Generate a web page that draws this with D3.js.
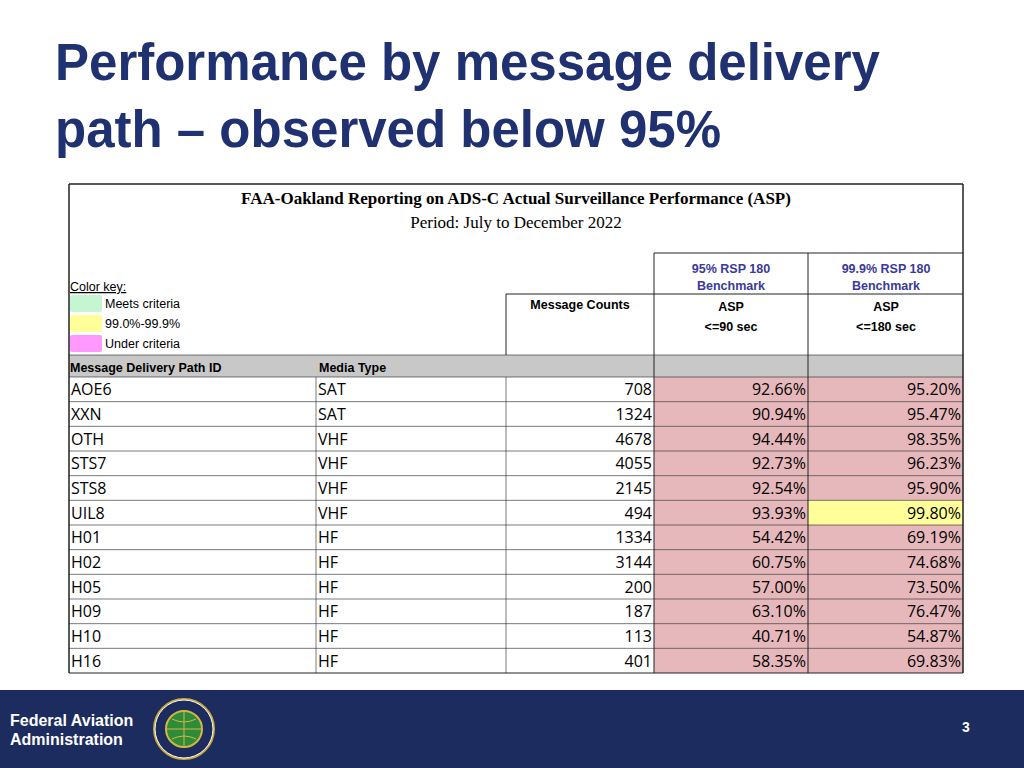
<!DOCTYPE html>
<html><head><meta charset="utf-8">
<script src="https://cdn.jsdelivr.net/npm/d3@7"></script>
<style>body{margin:0;background:#fff}</style></head>
<body><svg id="s" width="1024" height="768"></svg>
<script>
const pathIds = ["AOE6","XXN","OTH","STS7","STS8","UIL8","H01","H02","H05","H09","H10","H16"];
const mediaTypes = ["SAT","SAT","VHF","VHF","VHF","VHF","HF","HF","HF","HF","HF","HF"];
const messageCounts = [708,1324,4678,4055,2145,494,1334,3144,200,187,113,401];
const asp90 = [92.66,90.94,94.44,92.73,92.54,93.93,54.42,60.75,57.00,63.10,40.71,58.35];
const asp180 = [95.20,95.47,98.35,96.23,95.90,99.80,69.19,74.68,73.50,76.47,54.87,69.83];
const keyLabels = ["Meets criteria","99.0%-99.9%","Under criteria"];

const svg = d3.select("#s");
const navy = "#1f3170";
svg.append("text").attr("x",55).attr("y",80).attr("font-family","Liberation Sans, Arial").attr("font-weight","bold").attr("font-size",51).attr("fill",navy).text("Performance by message delivery");
svg.append("text").attr("x",55).attr("y",147).attr("font-family","Liberation Sans, Arial").attr("font-weight","bold").attr("font-size",51).attr("fill",navy).text("path – observed below 95%");

svg.append("rect").attr("x",0).attr("y",690).attr("width",1024).attr("height",78).attr("fill","#1d2c5e");
svg.append("text").attr("x",10).attr("y",726).attr("fill","#fff").attr("font-family","Liberation Sans, Arial").attr("font-weight","bold").attr("font-size",16).text("Federal Aviation");
svg.append("text").attr("x",10).attr("y",745).attr("fill","#fff").attr("font-family","Liberation Sans, Arial").attr("font-weight","bold").attr("font-size",16).text("Administration");
svg.append("text").attr("x",966).attr("y",732).attr("fill","#fff").attr("text-anchor","middle").attr("font-family","Liberation Sans, Arial").attr("font-weight","bold").attr("font-size",14).text("3");
const logo = svg.append("g").attr("transform","translate(184,729)");
logo.append("circle").attr("r",30).attr("fill","#1d2c5e").attr("stroke","#c8a83c").attr("stroke-width",2);
logo.append("circle").attr("r",29).attr("fill","none").attr("stroke","#fff").attr("stroke-width",1);
logo.append("circle").attr("r",18).attr("fill","#2e8b3a").attr("stroke","#d4b640").attr("stroke-width",2);
logo.append("path").attr("d","M-18,0H18M0,-18V18M-12,-10Q0,-4 12,-10M-12,10Q0,4 12,10").attr("stroke","#d4b640").attr("fill","none").attr("stroke-width",1);

const cols = [69,316,506,654,808,963];
const tableTop = 184, bandY = 355, bandH = 22;
const y = d3.scaleBand().domain(pathIds).range([377,673]);
const F = "Liberation Sans, Arial";
const T = "Open Sans, DejaVu Sans";
const ln = (x1,y1,x2,y2,w=1)=>svg.append("line").attr("x1",x1).attr("y1",y1).attr("x2",x2).attr("y2",y2).attr("stroke","#222").attr("stroke-width",w);

svg.append("rect").attr("x",cols[0]).attr("y",bandY).attr("width",cols[5]-cols[0]).attr("height",bandH).attr("fill","#c8c8c8");
const g = svg.append("g");
pathIds.forEach((id,i)=>{
  g.append("rect").attr("x",cols[3]).attr("y",y(id)).attr("width",cols[4]-cols[3]).attr("height",y.bandwidth()).attr("fill","#e6b8bb");
  g.append("rect").attr("x",cols[4]).attr("y",y(id)).attr("width",cols[5]-cols[4]).attr("height",y.bandwidth()).attr("fill",asp180[i]>=99?"#ffff99":"#e6b8bb");
});
svg.append("text").attr("x",516).attr("y",204).attr("text-anchor","middle").attr("font-family","Liberation Serif, Times New Roman").attr("font-weight","bold").attr("font-size",17).text("FAA-Oakland Reporting on ADS-C Actual Surveillance Performance (ASP)");
svg.append("text").attr("x",516).attr("y",228).attr("text-anchor","middle").attr("font-family","Liberation Serif, Times New Roman").attr("font-size",17).text("Period: July to December 2022");
svg.append("text").attr("x",70).attr("y",291).attr("font-family",F).attr("font-size",12.5).attr("text-decoration","underline").text("Color key:");
const keyCols = ["#c6f5d2","#ffff99","#ff99ff"];
keyLabels.forEach((k,i)=>{
  svg.append("rect").attr("x",70).attr("y",295+i*20).attr("width",32).attr("height",17).attr("rx",2).attr("fill",keyCols[i]);
  svg.append("text").attr("x",105).attr("y",308+i*20).attr("font-family",F).attr("font-size",12.5).text(k);
});
svg.append("text").attr("x",70).attr("y",372).attr("font-family",F).attr("font-weight","bold").attr("font-size",12.5).text("Message Delivery Path ID");
svg.append("text").attr("x",319).attr("y",372).attr("font-family",F).attr("font-weight","bold").attr("font-size",12.5).text("Media Type");
svg.append("text").attr("x",580).attr("y",309).attr("text-anchor","middle").attr("font-family",F).attr("font-weight","bold").attr("font-size",12.5).text("Message Counts");
[[731,"95% RSP 180","<=90 sec"],[886,"99.9% RSP 180","<=180 sec"]].forEach(([cx,a,b])=>{
  svg.append("text").attr("x",cx).attr("y",273).attr("text-anchor","middle").attr("font-family",F).attr("font-weight","bold").attr("font-size",12.5).attr("fill","#3a3a9a").text(a);
  svg.append("text").attr("x",cx).attr("y",290).attr("text-anchor","middle").attr("font-family",F).attr("font-weight","bold").attr("font-size",12.5).attr("fill","#3a3a9a").text("Benchmark");
  svg.append("text").attr("x",cx).attr("y",311).attr("text-anchor","middle").attr("font-family",F).attr("font-weight","bold").attr("font-size",12.5).text("ASP");
  svg.append("text").attr("x",cx).attr("y",331).attr("text-anchor","middle").attr("font-family",F).attr("font-weight","bold").attr("font-size",12.5).text(b);
});
pathIds.forEach((id,i)=>{
  const by = y(id)+y.bandwidth()/2+6;
  const t=(x,s,anc="start")=>svg.append("text").attr("x",x).attr("y",by).attr("text-anchor",anc).attr("font-family",T).attr("font-size",16).text(s);
  t(71,id); t(318,mediaTypes[i]);
  t(652,messageCounts[i],"end");
  t(806,asp90[i].toFixed(2)+"%","end");
  t(961,asp180[i].toFixed(2)+"%","end");
});
ln(cols[0],tableTop,cols[5],tableTop,1.5); ln(cols[0],tableTop,cols[0],673,1.5); ln(cols[5],tableTop,cols[5],673,1.5);
ln(cols[3],253,cols[5],253); ln(cols[3],294,cols[5],294); ln(cols[2],294,cols[3],294);
ln(cols[2],294,cols[2],bandY); ln(cols[3],253,cols[3],673); ln(cols[4],253,cols[4],673);
ln(cols[0],bandY,cols[5],bandY,0.6);
pathIds.forEach(id=>ln(cols[0],y(id),cols[5],y(id),0.6));
ln(cols[0],673,cols[5],673,1);
[cols[1],cols[2]].forEach(x=>ln(x,377,x,673,0.6));
</script></body></html>
